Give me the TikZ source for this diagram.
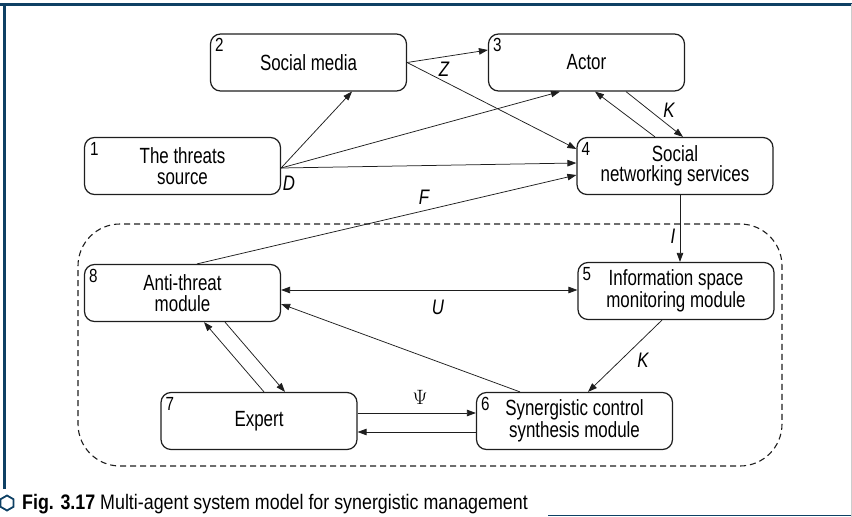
\documentclass[tikz,border=0pt]{standalone}
\usepackage{fontspec}
\setmainfont{Liberation Sans}
\newfontfamily\diag[FakeStretch=0.77]{Liberation Sans}
\newfontfamily\numfont[FakeStretch=0.8]{Liberation Sans}
\newfontfamily\capfont[FakeStretch=0.85]{Liberation Sans}
\usetikzlibrary{arrows.meta,shapes.geometric,calc}
\definecolor{frameblue}{RGB}{14,64,100}
\definecolor{boxline}{RGB}{30,30,30}
\begin{document}
\begin{tikzpicture}[x=1pt,y=-1pt,
  box/.style={draw=boxline,line width=1.2pt,rounded corners=10pt,minimum width=196pt,minimum height=57pt,inner sep=0pt,align=center,font=\diag\fontsize{22}{20.5}\selectfont},
  num/.style={anchor=north west,inner sep=0pt,font=\numfont\fontsize{19}{19}\selectfont},
  lab/.style={inner sep=0pt,font=\numfont\itshape\fontsize{21}{21}\selectfont},
  tip/.tip={Triangle[length=9pt,width=6.5pt]},
  arr/.style={line width=0.75pt,draw=boxline,-tip},
  arrb/.style={line width=0.75pt,draw=boxline,tip-tip},
  grpbox/.style={draw=boxline,line width=1.1pt,dash pattern=on 6pt off 4pt,rounded corners=42pt,minimum width=704pt,minimum height=242pt,inner sep=0pt},
  frame/.style={draw=frameblue}
]
\useasboundingbox (0,0) rectangle (852,517);
% frame
\draw[frame,line width=3pt] (0,4) -- (852,4);
\draw[frame,line width=2.5pt] (4.5,4) -- (4.5,489);
\draw[frame,line width=1.5pt] (548,515.5) -- (852,515.5);
\draw[gray!40,line width=0.8pt] (851,4) -- (851,517);

% dashed group
\node[grpbox] (grp) at (430,345) {};

% boxes
\node[box] (n1) at (182.5,166) {The threats\\source};
\node[box] (n2) at (308.5,62.5) {Social media};
\node[box] (n3) at (586.5,62.5) {Actor};
\node[box] (n4) at (675,166) {Social\\networking services};
\node[box] (n5) at (676,291) {Information space\\monitoring module};
\node[box] (n6) at (574.5,421) {Synergistic control\\synthesis module};
\node[box] (n7) at (259,421) {Expert};
\node[box] (n8) at (182.5,293) {Anti-threat\\module};

% numbers
\node[num] (k1) at ([shift={(6pt,-5pt)}]n1.north west) {1};
\node[num] (k2) at ([shift={(5pt,-5pt)}]n2.north west) {2};
\node[num] (k3) at ([shift={(5pt,-5pt)}]n3.north west) {3};
\node[num] (k4) at ([shift={(5pt,-5pt)}]n4.north west) {4};
\node[num] (k5) at ([shift={(5pt,-5pt)}]n5.north west) {5};
\node[num] (k6) at ([shift={(5pt,-5pt)}]n6.north west) {6};
\node[num] (k7) at ([shift={(5pt,-5pt)}]n7.north west) {7};
\node[num] (k8) at ([shift={(5pt,-5pt)}]n8.north west) {8};

% connectors
\coordinate (dpt) at ([yshift=-2pt]n1.east);
\draw[arr] (dpt) -- ([xshift=43.5pt]n2.south);
\draw[arr] (dpt) -- ([xshift=-26.5pt]n3.south);
\draw[arr] (dpt) -- ([yshift=3pt]n4.west);
\draw[arr] (n2.east) -- ([yshift=12.5pt]n3.west);
\draw[arr] (n2.east) -- ([yshift=17pt]n4.west);
\draw[arr] ([xshift=14.5pt]n8.north) -- ([yshift=-9pt]n4.west);
\draw[arr] ([xshift=-20pt]n4.north) -- ([xshift=8.5pt]n3.south);
\draw[arr] ([xshift=39.5pt]n3.south) -- ([xshift=8pt]n4.north);
\draw[arr] ([xshift=5pt]n4.south) -- ([xshift=4pt]n5.north);
\draw[arrb] ([yshift=3pt]n8.east) -- ([yshift=1pt]n5.west);
\draw[arr] ([xshift=-54.5pt]n6.north) -- ([yshift=-11pt]n8.east);
\draw[arr] ([xshift=-14pt]n5.south) -- ([xshift=13.5pt]n6.north);
\draw[arr] ([xshift=42.5pt]n8.south) -- ([xshift=26pt]n7.north);
\draw[arr] ([xshift=5pt]n7.north) -- ([xshift=21.5pt]n8.south);
\draw[arr] ([yshift=8pt]n7.east) -- ([yshift=8pt]n6.west);
\draw[arr] ([yshift=-11pt]n6.west) -- ([yshift=-11pt]n7.east);

% labels
\node[lab] (lz) at (444,69) {Z};
\node[lab] (lk1) at (669,110) {K};
\node[lab] (ld) at (289,183) {D};
\node[lab] (lf) at (424,197) {F};
\node[lab] (li) at (673,236) {I};
\node[lab] (lu) at (438,307) {U};
\node[lab] (lk2) at (643,360) {K};
\node[inner sep=0pt,font=\fontsize{20}{20}\selectfont] (lpsi) at (420,397) {$\Psi$};

% caption
\node[regular polygon,regular polygon sides=6,shape border rotate=30,draw=frameblue,line width=1.8pt,minimum size=15pt,inner sep=0pt] (hex) at (7,503) {};
\node[anchor=base west,inner sep=0pt,font=\capfont\fontsize{21}{21}\selectfont] (cap) at (22,509) {\textbf{Fig. 3.17} Multi-agent system model for synergistic management};
\end{tikzpicture}
\end{document}
